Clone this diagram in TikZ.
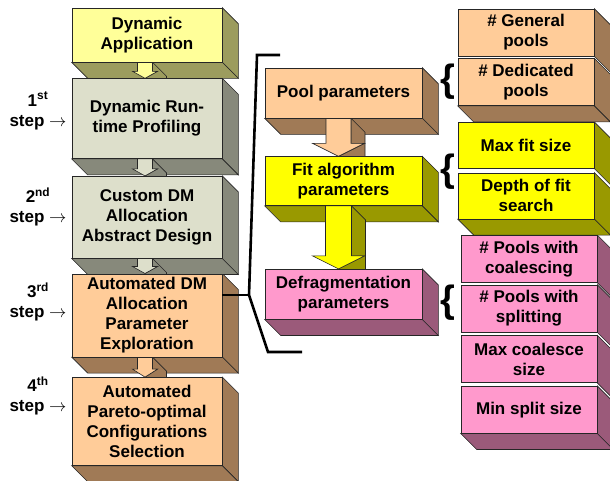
\documentclass[tikz,border=0pt]{standalone}
\usepackage{fontspec}
\setmainfont{Liberation Sans}
\usetikzlibrary{positioning, calc}
\pgfdeclarelayer{back}
\pgfsetlayers{back,main}

\definecolor{ylwF}{HTML}{FFFF99}
\definecolor{ylwS}{HTML}{9C9C5E}
\definecolor{grnF}{HTML}{DDDFCB}
\definecolor{grnS}{HTML}{87897B}
\definecolor{orgF}{HTML}{FFCC99}
\definecolor{orgS}{HTML}{A07A56}
\definecolor{yelF}{HTML}{FFFF00}
\definecolor{yelS}{HTML}{999900}
\definecolor{pnkF}{HTML}{FF99CC}
\definecolor{pnkS}{HTML}{9B5A7A}

\begin{document}
\begin{tikzpicture}[x=1pt, y=-1pt,
    cube/.style={draw=black!85, line width=0.6pt, fill=#1, align=center, inner sep=2pt,
      font=\bfseries\fontsize{17}{20}\selectfont},
    lcube/.style={cube=#1, minimum width=150pt},
    mcube/.style={cube=#1, minimum width=157pt, minimum height=50pt},
    rcube/.style={cube=#1, minimum width=136pt, minimum height=47pt},
    face/.style={draw=black!85, line width=0.6pt, fill=#1},
    stp/.style={align=center, font=\bfseries\fontsize{17}{20}\selectfont},
    brc/.style={inner sep=0pt, font=\bfseries\fontsize{38}{38}\selectfont},
    brk/.style={line width=2.6pt}
  ]
    \useasboundingbox (0,0) rectangle (610,480);

    % design flow
    \node[lcube=ylwF, minimum height=54pt] (app) at (147,35) {Dynamic\\Application};
    \node[lcube=grnF, minimum height=80pt, below=16pt of app] (prof) {Dynamic Run-\\time Profiling};
    \node[lcube=grnF, minimum height=82pt, below=17pt of prof] (design) {Custom DM\\Allocation\\Abstract Design};
    \node[lcube=orgF, minimum height=83pt, below=15pt of design] (explore) {Automated DM\\Allocation\\Parameter\\Exploration};
    \node[lcube=orgF, minimum height=88pt, below=20pt of explore] (select) {Automated\\Pareto-optimal\\Configurations\\Selection};

    \node[stp] (s1) at (38,111) {1\textsuperscript{st}\\step $\rightarrow$};
    \node[stp] (s2) at (38,207) {2\textsuperscript{nd}\\step $\rightarrow$};
    \node[stp] (s3) at (38,302) {3\textsuperscript{rd}\\step $\rightarrow$};
    \node[stp] (s4) at (38,396) {4\textsuperscript{th}\\step $\rightarrow$};

    % parameter groups
    \node[mcube=orgF] (pool) at (343.5,93) {Pool parameters};
    \node[mcube=yelF, minimum height=49pt, below=38pt of pool] (fit) {Fit algorithm\\parameters};
    \node[mcube=pnkF, below=63pt of fit] (defrag) {Defragmentation\\parameters};

    % parameters
    \node[rcube=orgF] (gen) at (526,32.5) {\# General\\pools};
    \node[rcube=orgF, below=2pt of gen] (ded) {\# Dedicated\\pools};
    \node[rcube=yelF, minimum height=46pt, below=16pt of ded] (maxfit) {Max fit size};
    \node[rcube=yelF, minimum height=46pt, below=4pt of maxfit] (depth) {Depth of fit\\search};
    \node[rcube=pnkF, below=16pt of depth, xshift=3pt] (coal) {\# Pools with\\coalescing};
    \node[rcube=pnkF, below=2pt of coal] (split) {\# Pools with\\splitting};
    \node[rcube=pnkF, below=3pt of split] (maxco) {Max coalesce\\size};
    \node[rcube=pnkF, below=3pt of maxco] (minsp) {Min split size};

    \node[brc] (b1) at (448,82) {\{};
    \node[brc] (b2) at (448,172) {\{};
    \node[brc] (b3) at (448,303) {\{};

    \begin{pgfonlayer}{back}
      % side and bottom faces
      \foreach \n/\c in {app/ylwS, prof/grnS, design/grnS, explore/orgS, select/orgS,
          pool/orgS, fit/yelS, defrag/pnkS, gen/orgS, ded/orgS, maxfit/yelS, depth/yelS,
          coal/pnkS, split/pnkS, maxco/pnkS, minsp/pnkS}
        \draw[face=\c] (\n.north east) -- ++(16,16) -- ([shift={(16,16)}]\n.south east) -- (\n.south east) -- cycle;
      \foreach \n/\c in {app/ylwS, prof/grnS, design/grnS, explore/orgS, select/orgS,
          pool/orgS, fit/yelS, defrag/pnkS, ded/orgS, depth/yelS, minsp/pnkS}
        \draw[face=\c] (\n.south west) -- (\n.south east) -- ([shift={(16,16)}]\n.south east) -- ([shift={(16,16)}]\n.south west) -- cycle;

      % block arrows
      \foreach \a/\b/\xo/\sw/\hw/\hh/\cf/\cs in {app/prof/-2/7.5/12.5/7/ylwF/ylwS,
          prof/design/-2/7.5/12.5/7/grnF/grnS, design/explore/-2/7.5/12.5/7/grnF/grnS,
          explore/select/-2/7.5/12.5/8/orgF/orgS, pool/fit/-5/12.5/26/13/orgF/orgS,
          fit/defrag/-5/13/26/13/yelF/yelS}{
        \path ([xshift=\xo]\a.south) coordinate (p) (p |- \b.north) coordinate (q);
        \draw[face=\cs] ([xshift=\sw]p) -- ([shift={(\sw,-\hh)}]q) -- ([shift={(\hw,-\hh)}]q) -- (q)
          -- ([shift={(14,14)}]q) -- ([shift={(\hw+14,14-\hh)}]q) -- ([shift={(\sw+14,14-\hh)}]q)
          -- ([shift={(\sw+14,14)}]p) -- cycle;
        \draw[face=\cf] ([xshift=-\sw]p) -- ([xshift=\sw]p) -- ([shift={(\sw,-\hh)}]q)
          -- ([shift={(\hw,-\hh)}]q) -- (q) -- ([shift={(-\hw,-\hh)}]q) -- ([shift={(-\sw,-\hh)}]q) -- cycle;
      }
    \end{pgfonlayer}

    % bracket round the parameter groups
    \draw[brk] (280,55) -- (257,55) -- (249,295) coordinate (jn) -- (268,352) -- (302,352);
    \draw[brk] (explore.east |- jn) -- (jn);
  \end{tikzpicture}
\end{document}
